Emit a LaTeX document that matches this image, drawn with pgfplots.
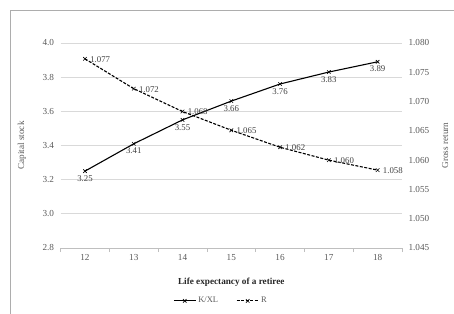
\documentclass[border=0pt]{standalone}
\usepackage{pgfplots}
\pgfplotsset{compat=1.18}
\usepackage{fontspec}
\setmainfont{Liberation Serif}
\definecolor{gridc}{HTML}{D9D9D9}
\definecolor{axisc}{HTML}{BFBFBF}
\definecolor{txtc}{HTML}{595959}
\definecolor{lblc}{HTML}{404040}
\definecolor{framec}{HTML}{ADADAD}
\begin{document}
\begin{tikzpicture}[x=1bp,y=1bp]
\useasboundingbox (0,0) rectangle (454,313);
\draw[framec, line width=0.8bp] (10.5,-5) -- (10.5,302.5) -- (460,302.5);
\pgfplotsset{
  every axis/.append style={
    scale only axis, width=341.4bp, height=205bp,
    at={(60.6bp,65bp)}, anchor=south west,
    xmin=11.5, xmax=18.5,
    /pgf/number format/assume math mode=true,
    tick label style={font=\fontsize{9.2bp}{10bp}\selectfont, text=txtc},
  }
}
\begin{axis}[
  axis x line*=bottom, axis y line*=left,
  y axis line style={draw=none},
  x axis line style={axisc, line width=0.8bp},
  ymin=2.8, ymax=4.0, ytick={2.8,3.0,...,4.01},
  yticklabel style={xshift=-3bp, /pgf/number format/fixed, /pgf/number format/fixed zerofill, /pgf/number format/precision=1},
  ymajorgrids, grid style={gridc, line width=0.8bp},
  xtick={12,...,18},
  major tick length=0pt,
  tick align=outside,
  extra x ticks={11.5,12.5,...,18.5},
  extra x tick labels={},
  extra x tick style={major tick length=4bp, tick style={axisc, line width=0.8bp}, grid=none},
  xticklabel style={yshift=-3bp},
  xlabel={Life expectancy of a retiree},
  xlabel style={font=\fontsize{9.2bp}{10bp}\selectfont\bfseries, text=black!85, at={(axis description cs:0.5,-0.166)}, anchor=center},
  ylabel={Capital stock},
  ylabel style={font=\fontsize{9.2bp}{10bp}\selectfont, text=txtc, at={(axis description cs:-0.113,0.5)}, anchor=center},
  clip=false,
]
\addplot[black, line width=1.1bp, mark=x, mark size=2.5bp, mark options={solid, line width=0.6bp},
  point meta=explicit symbolic, nodes near coords,
  every node near coord/.append style={anchor=north, yshift=-3bp, font=\fontsize{8.8bp}{10bp}\selectfont, text=lblc, inner sep=1bp}]
  coordinates {(12,3.25)[3.25] (13,3.41)[3.41] (14,3.55)[3.55] (15,3.66)[3.66] (16,3.76)[3.76] (17,3.83)[3.83] (18,3.89)[3.89]};
\end{axis}
\begin{axis}[
  axis x line=none, axis y line*=right,
  y axis line style={draw=none},
  major tick length=0pt,
  ymin=1.045, ymax=1.080, ytick={1.045,1.050,...,1.0801},
  yticklabel style={xshift=3bp, /pgf/number format/fixed, /pgf/number format/fixed zerofill, /pgf/number format/precision=3},
  ylabel={Gross return},
  ylabel style={font=\fontsize{9.2bp}{10bp}\selectfont, text=txtc, at={(axis description cs:1.126,0.5)}, anchor=center},
  clip=false,
  legend style={at={(axis description cs:0.47,-0.258)}, anchor=center, draw=none, fill=none,
    font=\fontsize{8.5bp}{10bp}\selectfont, text=txtc, legend columns=2,
    /tikz/every even column/.append style={column sep=16bp},
    /tikz/every odd column/.append style={column sep=0bp},
    nodes={inner xsep=2bp}},
  legend image code/.code={\draw[mark repeat=2,mark phase=2] plot coordinates {(0bp,0bp) (11bp,0bp) (22bp,0bp)};},
]
\addlegendimage{black, line width=1.1bp, mark=x, mark size=2.5bp, mark options={solid, line width=0.6bp}}
\addlegendentry{K/XL}
\addplot[black, line width=1.1bp, dash pattern=on 3bp off 1.5bp, mark=x, mark size=2.5bp, mark options={solid, line width=0.6bp},
  point meta=explicit symbolic, nodes near coords,
  every node near coord/.append style={anchor=west, xshift=4bp, yshift=-0.5bp, font=\fontsize{8.8bp}{10bp}\selectfont, text=lblc, inner sep=1bp}]
  coordinates {(12,1.0773)[1.077] (13,1.0722)[1.072] (14,1.0683)[1.068] (15,1.0651)[1.065] (16,1.0622)[1.062] (17,1.0600)[1.060] (18,1.0583)[1.058]};
\addlegendentry{R}
\end{axis}
\end{tikzpicture}
\end{document}
